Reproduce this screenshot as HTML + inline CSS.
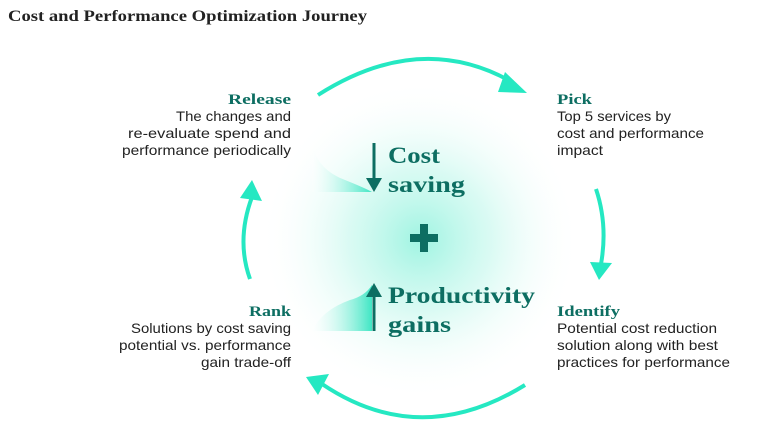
<!DOCTYPE html>
<html><head><meta charset="utf-8"><style>
html,body{margin:0;padding:0;background:#fff;}
body{width:768px;height:432px;overflow:hidden;position:relative;}
svg{position:absolute;left:0;top:0;}
.t{font-family:"Liberation Serif",serif;font-weight:bold;fill:#0d6e62;}
.b{font-family:"Liberation Sans",sans-serif;font-size:14px;fill:#222;}
</style></head><body>
<svg width="768" height="432" viewBox="0 0 768 432">
<defs>
<radialGradient id="glow" cx="420" cy="240" r="160" gradientUnits="userSpaceOnUse">
<stop offset="0" stop-color="#7ff0d8" stop-opacity="0.75"/>
<stop offset="0.45" stop-color="#b6f6e8" stop-opacity="0.5"/>
<stop offset="1" stop-color="#ffffff" stop-opacity="0"/>
</radialGradient>
<linearGradient id="sw" x1="0" y1="0" x2="1" y2="0">
<stop offset="0" stop-color="#ffffff" stop-opacity="0.2"/>
<stop offset="1" stop-color="#3fe6c4"/>
</linearGradient>
</defs>
<rect width="768" height="432" fill="#fff"/>
<circle cx="420" cy="240" r="160" fill="url(#glow)"/>
<text x="8" y="21" class="t" style="font-size:16px;fill:#222" textLength="359" lengthAdjust="spacingAndGlyphs">Cost and Performance Optimization Journey</text>

<g stroke="#25e8c2" stroke-width="4" fill="none" stroke-linecap="butt">
<path d="M318 95 Q420 30 512 82"/>
<path d="M596 189 Q608 225 601 264"/>
<path d="M525 385 Q420 450 322 384"/>
<path d="M250 279 Q236 240 252 197"/>
</g>
<g fill="#25e8c2">
<polygon points="505,72 527,93 498,92"/>
<polygon points="590,262 612,263 599,280"/>
<polygon points="306,377 329,374 318,395"/>
<polygon points="252,180 262,201 240,198"/>
</g>

<path d="M312 145 Q318 170 345 180 Q365 188 372 192 L312 192 Z" fill="url(#sw)"/>
<path d="M312 331 Q322 310 350 300 Q365 296 372 285 L372 331 Z" fill="url(#sw)"/>

<g stroke="#0d6e62" stroke-width="3">
<line x1="374" y1="143" x2="374" y2="180"/>
<line x1="374" y1="295" x2="374" y2="331"/>
</g>
<g fill="#0d6e62">
<polygon points="366,178 382,178 374,192"/>
<polygon points="366,297 382,297 374,283"/>
<rect x="410" y="234" width="28" height="8"/>
<rect x="420" y="224" width="8" height="28"/>
</g>

<text x="388" y="163" class="t" style="font-size:23px" textLength="52" lengthAdjust="spacingAndGlyphs">Cost</text>
<text x="388" y="192" class="t" style="font-size:23px" textLength="77" lengthAdjust="spacingAndGlyphs">saving</text>
<text x="388" y="303" class="t" style="font-size:23px" textLength="147" lengthAdjust="spacingAndGlyphs">Productivity</text>
<text x="388" y="332" class="t" style="font-size:23px" textLength="63" lengthAdjust="spacingAndGlyphs">gains</text>

<text x="228" y="104" class="t" style="font-size:15px" textLength="63" lengthAdjust="spacingAndGlyphs">Release</text>
<text x="176" y="121" class="b" textLength="115" lengthAdjust="spacingAndGlyphs">The changes and</text>
<text x="128" y="138" class="b" textLength="163" lengthAdjust="spacingAndGlyphs">re-evaluate spend and</text>
<text x="122" y="155" class="b" textLength="169" lengthAdjust="spacingAndGlyphs">performance periodically</text>

<text x="557" y="104" class="t" style="font-size:15px" textLength="35" lengthAdjust="spacingAndGlyphs">Pick</text>
<text x="557" y="121" class="b" textLength="114" lengthAdjust="spacingAndGlyphs">Top 5 services by</text>
<text x="557" y="138" class="b" textLength="147" lengthAdjust="spacingAndGlyphs">cost and performance</text>
<text x="557" y="155" class="b" textLength="46" lengthAdjust="spacingAndGlyphs">impact</text>

<text x="557" y="316" class="t" style="font-size:15px" textLength="63" lengthAdjust="spacingAndGlyphs">Identify</text>
<text x="557" y="333" class="b" textLength="160" lengthAdjust="spacingAndGlyphs">Potential cost reduction</text>
<text x="557" y="350" class="b" textLength="161" lengthAdjust="spacingAndGlyphs">solution along with best</text>
<text x="557" y="367" class="b" textLength="173" lengthAdjust="spacingAndGlyphs">practices for performance</text>

<text x="249" y="316" class="t" style="font-size:15px" textLength="42" lengthAdjust="spacingAndGlyphs">Rank</text>
<text x="131" y="333" class="b" textLength="160" lengthAdjust="spacingAndGlyphs">Solutions by cost saving</text>
<text x="119" y="350" class="b" textLength="172" lengthAdjust="spacingAndGlyphs">potential vs. performance</text>
<text x="201" y="367" class="b" textLength="90" lengthAdjust="spacingAndGlyphs">gain trade-off</text>
</svg>
</body></html>
